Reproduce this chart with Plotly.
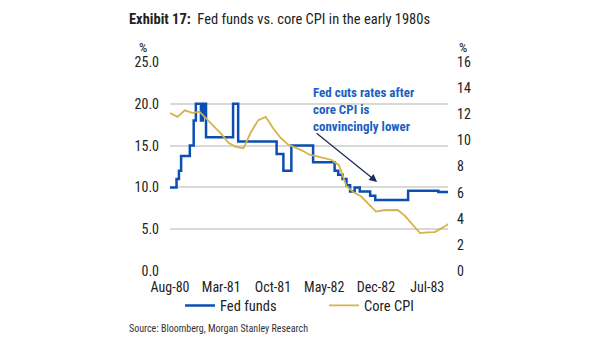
import plotly.graph_objects as go

# ---- data ----
ff_dates = ["1980-08-01", "1980-08-28", "1980-09-07", "1980-09-16", "1980-10-22",
            "1980-11-07", "1980-11-16", "1980-12-07", "1980-12-15", "1980-12-19",
            "1980-12-24", "1980-12-28", "1981-04-19", "1981-05-10", "1981-10-16",
            "1981-11-13", "1981-12-16", "1982-03-16", "1982-06-13", "1982-06-28",
            "1982-07-16", "1982-08-01", "1982-08-16", "1982-09-04", "1982-09-25",
            "1982-11-07", "1982-11-28", "1983-04-13", "1983-08-16", "1983-09-25"]
ff_vals = [10.0, 11.0, 12.0, 13.75, 15.0,
           18.0, 20.0, 18.0, 20.0, 18.5,
           20.0, 16.0, 20.0, 15.5, 14.0,
           12.0, 15.0, 13.0, 12.0, 11.5,
           11.0, 10.25, 9.5, 10.0, 9.5,
           9.0, 8.5, 9.6, 9.45, 9.45]

cpi_dates = ["1980-08-01", "1980-09-01", "1980-10-01", "1980-11-01", "1980-12-01",
             "1981-01-01", "1981-02-01", "1981-03-01", "1981-04-01", "1981-05-01",
             "1981-06-01", "1981-07-01", "1981-08-01", "1981-09-01", "1981-10-01",
             "1981-11-01", "1981-12-01", "1982-01-01", "1982-02-01", "1982-03-01",
             "1982-04-01", "1982-05-01", "1982-06-01", "1982-07-01", "1982-08-01",
             "1982-09-01", "1982-10-01", "1982-11-01", "1982-12-01", "1983-01-01",
             "1983-02-01", "1983-03-01", "1983-04-01", "1983-05-01", "1983-06-01",
             "1983-07-01", "1983-08-01", "1983-09-01", "1983-10-01"]
cpi_vals = [12.1, 11.8, 12.3, 12.1, 12.2,
            11.6, 11.0, 10.5, 9.8, 9.5,
            9.4, 10.6, 11.55, 11.8, 10.95,
            10.2, 9.7, 9.45, 9.2, 8.9,
            8.8, 8.65, 8.5, 8.1, 6.5,
            6.0, 5.7, 5.1, 4.55, 4.65,
            4.67, 4.67, 4.2, 3.6, 2.9,
            2.95, 2.98, 3.3, 3.65]

x_tick_dates = ["1980-08-01", "1981-03-01", "1981-10-01", "1982-05-01", "1982-12-01", "1983-07-01"]
x_tick_labels = ["Aug-80", "Mar-81", "Oct-81", "May-82", "Dec-82", "Jul-83"]
left_ticks = [0, 5, 10, 15, 20, 25]
right_ticks = [0, 2, 4, 6, 8, 10, 12, 14, 16]

FONT = "Liberation Sans Narrow, Roboto Condensed, Arial Narrow, Roboto, sans-serif"
BLUE = "#0b4fb3"
GOLD = "#d5b24a"

fig = go.Figure()
fig.add_trace(go.Scatter(x=ff_dates, y=ff_vals, name="Fed funds", mode="lines",
                         line=dict(color=BLUE, width=2.5, shape="hv"), yaxis="y",
                         legend="legend"))
fig.add_trace(go.Scatter(x=cpi_dates, y=cpi_vals, name="Core CPI", mode="lines",
                         line=dict(color=GOLD, width=1.8), yaxis="y2",
                         legend="legend2"))

legend_common = dict(orientation="h", xref="paper", yref="paper", y=-0.165,
                     xanchor="left", yanchor="middle",
                     font=dict(size=14.5, color="#222222"), itemwidth=30,
                     bgcolor="rgba(0,0,0,0)", borderwidth=0)

fig.update_layout(
    template="none",
    width=605, height=341,
    margin=dict(l=170, r=157, t=62, b=70, autoexpand=False),
    paper_bgcolor="white", plot_bgcolor="white",
    font=dict(family=FONT, size=14, color="#222222"),
    showlegend=True,
    legend=dict(x=0.036, **legend_common),
    legend2=dict(x=0.554, **legend_common),
    xaxis=dict(type="date", range=["1980-08-01", "1983-09-25"],
               tickvals=x_tick_dates, ticktext=x_tick_labels,
               showgrid=False, zeroline=False, showline=False, ticks="",
               tickfont=dict(size=14), ticklabelstandoff=6, automargin=False),
    yaxis=dict(range=[0, 25], tickvals=left_ticks, tickformat=".1f",
               showgrid=True, gridcolor="#d9d9d9", gridwidth=1.5,
               zeroline=False, showline=False, ticks="",
               tickfont=dict(size=14), ticklabelstandoff=10, automargin=False),
    yaxis2=dict(range=[0, 16], tickvals=right_ticks, overlaying="y", side="right",
                showgrid=False, zeroline=False, showline=False, ticks="",
                tickfont=dict(size=14), ticklabelstandoff=8, automargin=False),
)

# title
fig.add_annotation(xref="paper", yref="paper", x=-0.155, y=1.201,
                   xanchor="left", yanchor="middle", showarrow=False,
                   text="<b>Exhibit 17:</b>  Fed funds vs. core CPI in the early 1980s",
                   font=dict(size=14.5, color="#222222", family=FONT))
# axis unit labels
fig.add_annotation(xref="paper", yref="paper", x=-0.097, y=1.067, xanchor="center",
                   yanchor="middle", showarrow=False, text="%",
                   font=dict(size=13, color="#222222", family=FONT))
fig.add_annotation(xref="paper", yref="paper", x=1.054, y=1.067, xanchor="center",
                   yanchor="middle", showarrow=False, text="%",
                   font=dict(size=13, color="#222222", family=FONT))
# callout text
fig.add_annotation(xref="paper", yref="paper", x=0.507, y=0.775, xanchor="left",
                   yanchor="middle", showarrow=False, align="left",
                   text="<b>Fed cuts rates after<br>core CPI is<br>convincingly lower</b>",
                   font=dict(size=13, color="#1b5fc0", family=FONT))
# arrow
fig.add_annotation(xref="x domain", yref="y domain", x=0.745, y=0.426,
                   ax=0.522, ay=0.665, axref="x domain", ayref="y domain",
                   showarrow=True, arrowhead=2, arrowsize=1.2, arrowwidth=1.3,
                   arrowcolor="#1f2d5c", text="")
# source
fig.add_annotation(xref="paper", yref="paper", x=-0.155, y=-0.273,
                   xanchor="left", yanchor="middle", showarrow=False,
                   text="Source: Bloomberg, Morgan Stanley Research",
                   font=dict(size=10, color="#333333", family=FONT))

fig.write_html("out.html")
